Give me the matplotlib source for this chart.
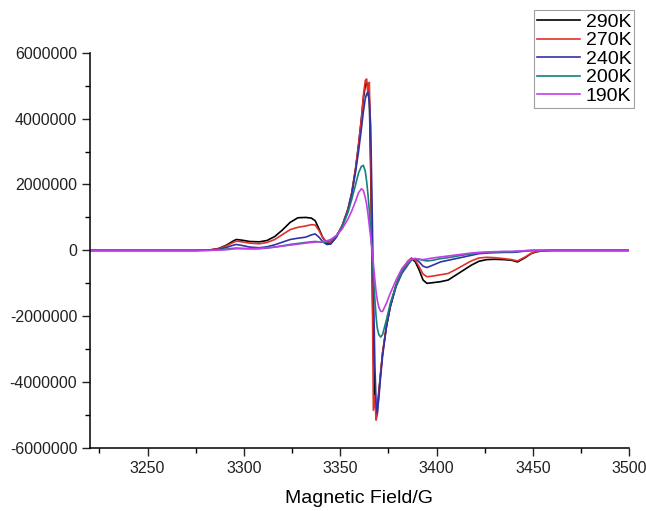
#   plot.py ~~
#
#   EPR spectra of one sample at five temperatures, redrawn from a figure.
#   Signal values are kept in units of 1e6 and scaled when plotted.

import matplotlib
matplotlib.use("Agg")
import matplotlib.pyplot as pyplot
from matplotlib.ticker import MultipleLocator, FuncFormatter
import numpy

pyplot.rcParams["font.family"] = ["Liberation Sans", "DejaVu Sans"]

###

field = [3220, 3250, 3275, 3282, 3287, 3291, 3294, 3296, 3299, 3303,
         3308, 3312, 3316, 3320, 3324, 3328, 3332, 3335, 3337, 3339,
         3341, 3343, 3345, 3348, 3351, 3354, 3356, 3358, 3359.5, 3361,
         3362, 3363, 3363.7, 3364.4, 3365.1, 3365.8, 3366.5, 3367.2, 3368, 3368.6,
         3369.2, 3370, 3371, 3372, 3374, 3376, 3379, 3382, 3385, 3387,
         3389, 3391, 3393, 3395, 3398, 3402, 3406, 3410, 3414, 3418,
         3422, 3426, 3430, 3435, 3439, 3442, 3446, 3449, 3452, 3456,
         3460, 3470, 3500]

signal_290 = [0, 0, 0, 0.01, 0.06, 0.16, 0.27, 0.33, 0.31, 0.27,
              0.26, 0.30, 0.42, 0.62, 0.85, 0.99, 1.00, 0.98, 0.90, 0.65,
              0.38, 0.22, 0.20, 0.42, 0.75, 1.25, 1.75, 2.5, 3.2, 4.0,
              4.6, 5.0, 5.1, 4.9, 4.6, 2.5, -0.5, -3.0, -4.6, -4.9,
              -4.8, -4.3, -3.7, -3.1, -2.3, -1.7, -1.05, -0.6, -0.35, -0.25,
              -0.35, -0.6, -0.9, -1.0, -0.98, -0.95, -0.9, -0.75, -0.6, -0.45,
              -0.33, -0.28, -0.27, -0.28, -0.3, -0.35, -0.22, -0.1, -0.04, -0.01,
              0, 0, 0]

signal_270 = [0, 0, 0, 0.01, 0.05, 0.14, 0.23, 0.28, 0.26, 0.22,
              0.20, 0.24, 0.33, 0.48, 0.63, 0.70, 0.74, 0.78, 0.77, 0.60,
              0.38, 0.25, 0.23, 0.42, 0.75, 1.25, 1.75, 2.5, 3.2, 4.0,
              4.7, 5.15, 5.2, 4.7, 5.1, 3.0, 0, -4.85, -4.4, -5.15,
              -5.0, -4.4, -3.7, -3.1, -2.3, -1.7, -1.05, -0.6, -0.33, -0.23,
              -0.3, -0.5, -0.72, -0.8, -0.78, -0.74, -0.7, -0.58, -0.45, -0.32,
              -0.23, -0.21, -0.22, -0.25, -0.28, -0.32, -0.2, -0.09, -0.03, -0.01,
              0, 0, 0]

signal_240 = [0, 0, 0, 0.005, 0.03, 0.09, 0.15, 0.18, 0.15, 0.10,
              0.08, 0.11, 0.17, 0.25, 0.33, 0.37, 0.40, 0.47, 0.50, 0.40,
              0.26, 0.18, 0.19, 0.40, 0.72, 1.2, 1.7, 2.4, 3.0, 3.7,
              4.2, 4.6, 4.75, 4.8, 4.5, 3.8, 1.5, -1.0, -3.5, -4.6,
              -4.95, -4.5, -3.8, -3.2, -2.3, -1.7, -1.1, -0.7, -0.45, -0.27,
              -0.25, -0.35, -0.48, -0.52, -0.45, -0.35, -0.3, -0.25, -0.2, -0.15,
              -0.1, -0.08, -0.07, -0.06, -0.06, -0.05, -0.02, -0.01, 0, 0,
              0, 0, 0]

signal_200 = [0, 0, 0, 0.003, 0.015, 0.04, 0.06, 0.07, 0.06, 0.05,
              0.05, 0.07, 0.10, 0.14, 0.18, 0.21, 0.24, 0.26, 0.27, 0.26,
              0.25, 0.25, 0.29, 0.45, 0.72, 1.15, 1.55, 2.0, 2.35, 2.55,
              2.58, 2.4, 2.1, 1.7, 1.2, 0.6, 0, -0.7, -1.5, -2.0,
              -2.35, -2.55, -2.63, -2.55, -2.1, -1.6, -1.05, -0.65, -0.42, -0.3,
              -0.25, -0.27, -0.3, -0.32, -0.3, -0.25, -0.22, -0.18, -0.14, -0.11,
              -0.08, -0.06, -0.05, -0.04, -0.04, -0.03, -0.01, 0, 0, 0,
              0, 0, 0]

signal_190 = [0, 0, 0, 0, 0.01, 0.02, 0.04, 0.05, 0.05, 0.05,
              0.06, 0.08, 0.10, 0.13, 0.16, 0.19, 0.22, 0.24, 0.25, 0.26,
              0.27, 0.29, 0.33, 0.45, 0.65, 0.95, 1.2, 1.5, 1.75, 1.87,
              1.82, 1.6, 1.4, 1.1, 0.75, 0.4, 0.05, -0.4, -0.9, -1.25,
              -1.5, -1.72, -1.85, -1.85, -1.6, -1.3, -0.9, -0.55, -0.35, -0.26,
              -0.25, -0.27, -0.28, -0.26, -0.23, -0.2, -0.17, -0.14, -0.11, -0.08,
              -0.06, -0.05, -0.04, -0.03, -0.03, -0.02, -0.01, 0, 0, 0,
              0, 0, 0]

labels = ["290K", "270K", "240K", "200K", "190K"]
colors = ["#000000", "#e0302c", "#3232a8", "#16807a", "#c23ee6"]

###

def main():

    fig = pyplot.figure(figsize=(6.46, 5.11), dpi=100)
    ax = fig.add_axes([0.139, 0.123, 0.835, 0.774])

    series = [signal_290, signal_270, signal_240, signal_200, signal_190]
    for values, label, color in zip(series, labels, colors):
        ax.plot(field, numpy.array(values) * 1e6, color=color, linewidth=1.2,
                label=label)

    ax.set_xlim(3220, 3500)
    ax.set_ylim(-6e6, 6e6)
    ax.set_xticks([3250, 3300, 3350, 3400, 3450, 3500])
    ax.set_yticks(numpy.arange(-6e6, 6.1e6, 2e6))
    ax.xaxis.set_minor_locator(MultipleLocator(25))
    ax.yaxis.set_minor_locator(MultipleLocator(1e6))
    ax.yaxis.set_major_formatter(FuncFormatter(lambda v, pos: "%d" % v))

  # Only the left and bottom axis lines, ticks pointing outwards
    for side in ["top", "right"]:
        ax.spines[side].set_visible(False)
    for side in ["left", "bottom"]:
        ax.spines[side].set_linewidth(1.1)
    ax.tick_params(which="major", direction="out", length=5.5, width=1.0,
                   labelsize=11.5, colors="#222222")
    ax.tick_params(which="minor", direction="out", length=3.5, width=1.0)

    ax.set_xlabel("Magnetic Field/G", fontsize=14, labelpad=10)

    leg = ax.legend(loc="upper right", bbox_to_anchor=(0.982, 0.980),
                    bbox_transform=fig.transFigure, fontsize=14, frameon=True,
                    fancybox=False, edgecolor="#888888", handlelength=2.2,
                    handletextpad=0.3, labelspacing=0.05, borderpad=0.15,
                    borderaxespad=0.0)
    leg.get_frame().set_linewidth(0.8)

    fig.savefig("out.png", dpi=100)

###

if __name__ == "__main__":
    main()
